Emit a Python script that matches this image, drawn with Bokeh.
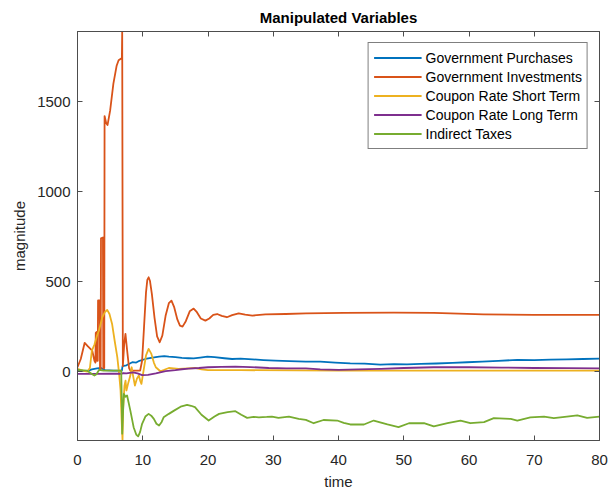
from bokeh.plotting import figure
from bokeh.models import Range1d, FixedTicker, LinearAxis, Legend, LegendItem
from bokeh.embed import file_html
from bokeh.resources import INLINE

# ---------------- data ----------------
gp_t = [0, 1.5, 2.2, 3.0, 3.6, 4.2, 5.5, 6.8, 6.9, 7.5, 8.4, 9.0, 9.5, 10.4, 11.5, 12.5, 13.3, 14.0,
        15.0, 16.0, 17.0, 17.8, 18.8, 19.9, 21.0, 22.5, 23.7, 25.0, 26.8, 28.5, 30.3, 32.5, 35.0, 37.2,
        39.5, 41.8, 44.0, 46.4, 48.5, 50.5, 52.6, 55.0, 57.5, 59.7, 62.0, 64.5, 67.4, 70.0, 72.5, 75.0,
        77.5, 80.0]
gp_v = [5, 3, 12, 18, 20, 8, 5, 5, 30, 35, 52, 50, 60, 70, 78, 83, 86, 83,
        80, 76, 74, 73, 78, 83, 80, 74, 70, 72, 68, 64, 61, 58, 55, 55,
        50, 46, 44, 39, 41, 40, 43, 45, 48, 52, 55, 60, 65, 64, 67, 68,
        70, 72]

gi_t = [0, 0.5, 1.1, 1.6, 2.25, 2.6, 2.75, 2.8, 2.95, 3.0, 3.1, 3.15, 3.4, 3.45, 3.55, 3.6, 3.9, 3.95,
        4.1, 4.15, 4.4, 4.6, 5.0, 5.5, 6.0, 6.3, 6.7, 6.8, 6.85, 6.95, 7.15, 7.35, 7.6, 7.9, 8.1, 9.6,
        9.9, 10.2, 10.5, 10.7, 10.9, 11.1, 11.4, 11.8, 12.2, 12.6, 13.0, 13.5, 14.0, 14.4, 14.8, 15.3,
        15.7, 16.1, 16.6, 17.2, 17.8, 18.3, 18.9, 19.6, 20.2, 20.8, 21.4, 22.1, 22.9, 23.7, 24.7, 25.7,
        26.8, 28.8, 31.9, 35.0, 40.8, 48.5, 54.6, 62.2, 69.9, 80.0]
gi_v = [25, 70, 160, 140, 117, 60, 50, 215, 220, 60, 60, 395, 395, 10, 10, 740, 745, 20,
        20, 1420, 1380, 1370, 1450, 1600, 1700, 1730, 1740, 1740, 1890, 30, 150, 210, 120, 20, 5, 5,
        60, 250, 440, 510, 524, 505, 430, 300, 195, 163, 200, 310, 380, 394, 360, 290,
        255, 250, 280, 335, 350, 330, 295, 283, 295, 315, 320, 310, 302, 314, 324, 316,
        311, 318, 320, 323, 326, 328, 326, 318, 315, 315]

cs_t = [0, 0.8, 1.5, 1.9, 2.2, 2.6, 3.0, 3.3, 3.8, 4.2, 4.55, 4.9, 5.3, 5.7, 6.1, 6.4, 6.6, 6.8,
        6.9, 7.0, 7.2, 7.36, 7.5, 7.8, 8.1, 8.3, 8.5, 8.8, 9.1, 9.4, 9.6, 9.8, 10.1, 10.5, 10.9,
        11.3, 11.7, 12.0, 12.7, 13.3, 14.0, 15.5, 17.0, 18.0, 19.0, 20.0, 25.0, 40.0, 60.0, 80.0]
cs_v = [15, 5, 0, 20, 117, 150, 200, 230, 302, 330, 343, 320, 265, 170, 80, -20, -105, -300,
        -380, -200, -80, -50, -105, -60, -22, 24, -20, -78, -40, -22, -50, -68, 0, 90, 126,
        100, 50, 24, 2, 10, 20, 15, 18, 20, 12, 8, 8, 5, 5, 5]

cl_t = [0, 3.0, 5.0, 6.8, 7.0, 7.5, 8.5, 9.2, 9.9, 10.8, 12.0, 13.5, 15.0, 16.0, 17.0, 18.6, 20.0,
        22.0, 24.2, 26.5, 29.3, 32.0, 35.0, 37.2, 40.0, 43.0, 46.5, 50.0, 54.6, 60.0, 65.0, 70.0,
        75.0, 80.0]
cl_v = [-13, -13, -12, -12, -8, -10, -4, -10, -20, -18, -10, 2, 8, 13, 17, 20, 24,
        26, 28, 25, 20, 18, 18, 12, 10, 12, 15, 20, 24, 24, 22, 20,
        19, 18]

it_t = [0, 1.5, 2.2, 2.6, 2.9, 3.3, 4.0, 6.7, 6.8, 6.85, 6.95, 7.1, 7.35, 7.6, 8.1, 8.6, 9.0, 9.3,
        9.6, 9.9, 10.4, 10.9, 11.3, 11.7, 12.1, 12.5, 12.9, 13.2, 14.0, 14.8, 15.8, 16.8, 17.4, 18.0,
        19.0, 20.1, 21.0, 21.7, 23.0, 24.2, 25.1, 26.0, 27.0, 27.8, 29.0, 29.8, 30.8, 32.4, 33.9,
        35.0, 36.2, 37.7, 39.8, 40.8, 41.8, 43.9, 45.4, 47.5, 49.2, 50.8, 53.1, 54.6, 56.7, 58.7,
        60.2, 62.3, 63.8, 66.4, 67.4, 69.4, 71.5, 73.0, 75.0, 76.6, 78.1, 80.0]
it_v = [9, 5, -13, -22, -15, 9, 5, 5, -200, -345, -250, -124, -140, -133, -217, -309, -350, -360,
        -335, -290, -250, -235, -245, -263, -290, -300, -280, -254, -235, -217, -195, -185, -190, -198,
        -240, -272, -250, -235, -225, -220, -240, -257, -252, -254, -252, -250, -257, -250, -263,
        -268, -287, -269, -272, -285, -294, -294, -272, -294, -309, -287, -287, -305, -287, -272,
        -287, -281, -259, -263, -272, -254, -250, -259, -250, -243, -257, -250]

series_names = ["Government Purchases", "Government Investments", "Coupon Rate Short Term",
                "Coupon Rate Long Term", "Indirect Taxes"]
x_ticks = [0, 10, 20, 30, 40, 50, 60, 70, 80]
y_ticks = [0, 500, 1000, 1500]

# ---------------- figure ----------------
FONT = "Liberation Sans"
AX = "#4d4d4d"
TXT = "#262626"

p = figure(frame_width=522, frame_height=409, output_backend="svg", toolbar_location=None,
           x_range=Range1d(0, 80), y_range=Range1d(-383, 1890),
           min_border_left=77, min_border_right=15, min_border_top=31, min_border_bottom=50,
           title="Manipulated Variables")
p.background_fill_color = "white"
p.border_fill_color = "white"
p.outline_line_color = AX
p.xgrid.visible = False
p.ygrid.visible = False

p.title.align = "center"
p.title.vertical_align = "middle"
p.title.text_font = FONT
p.title.text_font_size = "15px"
p.title.text_font_style = "bold"
p.title.text_color = "black"

def style_axis(ax, show_labels=True):
    ax.axis_line_color = AX
    ax.major_tick_line_color = AX
    ax.major_tick_in = 5
    ax.major_tick_out = 0
    ax.minor_tick_line_color = None
    ax.major_label_text_font = FONT
    ax.axis_label_text_font = FONT
    ax.axis_label_text_font_size = "15px"
    ax.axis_label_text_font_style = "normal"
    ax.axis_label_text_color = TXT
    if show_labels:
        ax.major_label_text_font_size = "15px"
        ax.major_label_text_color = TXT
    else:
        ax.major_label_text_font_size = "0px"
        ax.major_label_text_color = None
        ax.major_label_standoff = 0

p.xaxis.ticker = FixedTicker(ticks=x_ticks)
p.yaxis.ticker = FixedTicker(ticks=y_ticks)
style_axis(p.xaxis[0])
style_axis(p.yaxis[0])
p.xaxis.axis_label = "time"
p.yaxis.axis_label = "magnitude"
p.xaxis.major_label_standoff = 14
p.xaxis.axis_label_standoff = 5
p.yaxis.major_label_standoff = 7
p.yaxis.axis_label_standoff = 6

top = LinearAxis(ticker=FixedTicker(ticks=x_ticks))
style_axis(top, show_labels=False)
p.add_layout(top, "above")
right = LinearAxis(ticker=FixedTicker(ticks=y_ticks))
style_axis(right, show_labels=False)
p.add_layout(right, "right")

colors = ["#0072BD", "#D95319", "#EDB120", "#7E2F8E", "#77AC30"]
data = [(gp_t, gp_v), (gi_t, gi_v), (cs_t, cs_v), (cl_t, cl_v), (it_t, it_v)]
renderers = []
for (t, v), c in zip(data, colors):
    r = p.line(t, v, line_color=c, line_width=1.8, line_join="round")
    renderers.append(r)

legend = Legend(items=[LegendItem(label=n, renderers=[r]) for n, r in zip(series_names, renderers)],
                location="top_right")
legend.margin = 11
legend.padding = 5
legend.spacing = 0
legend.label_height = 19
legend.glyph_height = 19
legend.glyph_width = 48
legend.label_standoff = 4
legend.label_text_font = FONT
legend.label_text_font_size = "14px"
legend.label_text_color = "black"
legend.border_line_color = "black"
legend.border_line_width = 1
legend.background_fill_color = "white"
legend.background_fill_alpha = 1
p.add_layout(legend, "center")

open("out.html", "w").write(file_html(p, INLINE))
